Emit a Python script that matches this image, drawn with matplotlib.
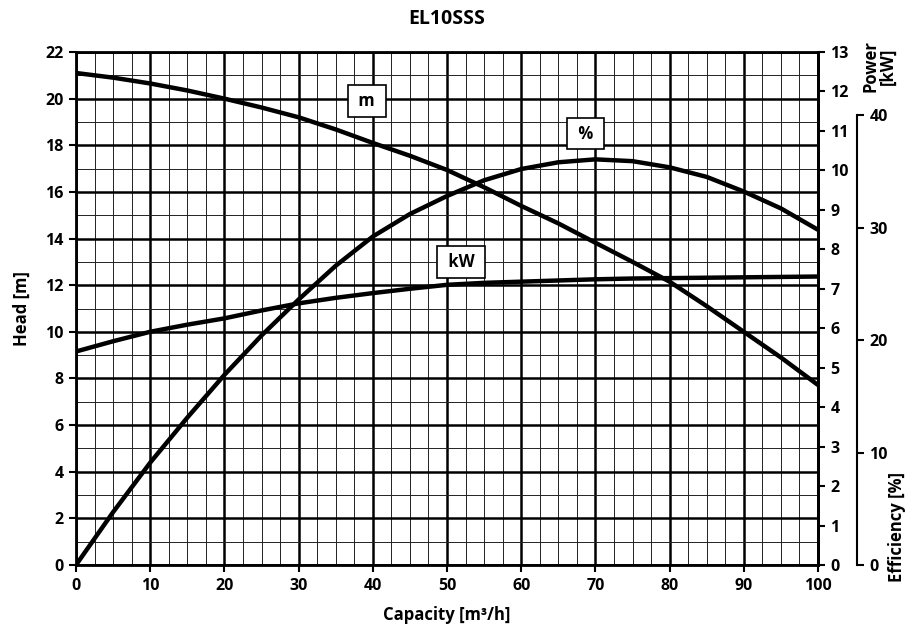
import numpy as np
import matplotlib.pyplot as plt
from matplotlib.ticker import MultipleLocator

plt.rcParams['font.family'] = ['Open Sans', 'DejaVu Sans']
plt.rcParams['font.weight'] = 'bold'

# capacity [m3/h]
capacity = [0, 5, 10, 15, 20, 25, 30, 35, 40, 45, 50,
            55, 60, 65, 70, 75, 80, 85, 90, 95, 100]
# head [m]
head = [21.1, 20.9, 20.65, 20.35, 20.0, 19.62, 19.2, 18.68, 18.1, 17.55, 16.94,
        16.2, 15.4, 14.65, 13.82, 13.0, 12.15, 11.1, 10.0, 8.9, 7.72]
# power [kW]
power = [5.41, 5.67, 5.91, 6.09, 6.25, 6.45, 6.63, 6.77, 6.89, 7.0, 7.1,
         7.15, 7.18, 7.21, 7.24, 7.26, 7.27, 7.28, 7.29, 7.30, 7.31]
# efficiency [%]
efficiency = [0, 4.7, 9.1, 13.1, 16.9, 20.4, 23.6, 26.6, 29.2, 31.2, 32.8,
              34.2, 35.2, 35.8, 36.06, 35.9, 35.35, 34.5, 33.2, 31.7, 29.8]

head_ticks = np.arange(0, 23, 2)
power_ticks = np.arange(0, 14, 1)
eff_ticks = [0, 10, 20, 30, 40]

fig = plt.figure(figsize=(9.05, 6.26), dpi=100)
ax = fig.add_axes([76/905, 61/626, 742/905, 513/626])

ax.set_xlim(0, 100)
ax.set_ylim(0, 22)
ax.xaxis.set_major_locator(MultipleLocator(10))
ax.xaxis.set_minor_locator(MultipleLocator(2.5))
ax.set_yticks(head_ticks)
ax.yaxis.set_minor_locator(MultipleLocator(1))
ax.grid(which='major', color='black', linewidth=1.8)
ax.grid(which='minor', color='#222222', linewidth=0.7)
ax.tick_params(which='minor', length=0)
ax.tick_params(which='major', direction='out', length=5, width=1.5, labelsize=11.5, pad=4)
for s in ax.spines.values():
    s.set_linewidth(2)
ax.set_axisbelow(True)

ax.plot(capacity, head, color='black', linewidth=3.2, zorder=5)

ax2 = ax.twinx()
ax2.set_ylim(0, 13)
ax2.set_yticks(power_ticks)
ax2.tick_params(direction='out', length=5, width=1.5, labelsize=11.5, pad=4)
ax2.spines['right'].set_linewidth(2)
ax2.plot(capacity, power, color='black', linewidth=3.2, zorder=5)

ax3 = ax.twinx()
ax3.set_ylim(0, 22 * 23.32 / 11.25)
ax3.set_yticks(eff_ticks)
ax3.spines['right'].set_position(('outward', 28))
ax3.spines['right'].set_bounds(0, 40)
ax3.spines['right'].set_linewidth(1.5)
ax3.tick_params(direction='out', length=5, width=1.5, labelsize=11.5, pad=4)
ax3.plot(capacity, efficiency, color='black', linewidth=3.2, zorder=5)

box = dict(boxstyle='square,pad=0.4', facecolor='white', edgecolor='black', linewidth=1.2)
ax.text(39.2, 19.9, ' m ', ha='center', va='center', fontsize=12, bbox=box, zorder=10)
ax.text(68.7, 18.5, ' % ', ha='center', va='center', fontsize=12, bbox=box, zorder=10)
ax.text(51.9, 13.0, ' kW ', ha='center', va='center', fontsize=12, bbox=box, zorder=10)

fig.text(447/905, 1 - 19/626, 'EL10SSS', ha='center', va='center',
         fontsize=14, fontweight='bold')
ax.set_xlabel('Capacity [m³/h]', fontsize=12, fontweight='bold', labelpad=9)
ax.set_ylabel('Head [m]', fontsize=12, fontweight='bold', labelpad=10)
fig.text(879/905, 1 - 66/626, 'Power\n[kW]', rotation=90, ha='center', va='center',
         fontsize=12, fontweight='bold', linespacing=0.95)
fig.text(897/905, 1 - 527/626, 'Efficiency [%]', rotation=90, ha='center', va='center',
         fontsize=12, fontweight='bold')

fig.savefig('out.png', dpi=100)
